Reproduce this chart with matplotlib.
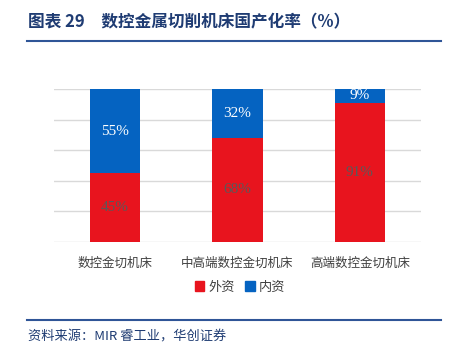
import matplotlib.pyplot as plt
import numpy as np
from matplotlib.lines import Line2D
from matplotlib.patches import Patch

plt.rcParams['font.family'] = ['Noto Sans CJK SC', 'DejaVu Sans']

categories = ["数控金切机床", "中高端数控金切机床", "高端数控金切机床"]
foreign = [45, 68, 91]
domestic = [55, 32, 9]

red = "#E8141E"
blue = "#0563C1"
navy = "#1F3C73"

fig = plt.figure(figsize=(4.55, 3.56), dpi=100)
W, H = 455, 356
ax = fig.add_axes([54 / W, 1 - 242 / H, 367 / W, 153 / H])

x = np.arange(len(categories))
ax.bar(x, foreign, width=0.41, color=red, zorder=2)
ax.bar(x, domestic, width=0.41, bottom=foreign, color=blue, zorder=2)

for i in range(len(categories)):
    ax.text(x[i], foreign[i] / 2, f"{foreign[i]}%", ha="center", va="center",
            color="#595959", fontsize=11, family="Liberation Serif", zorder=3)
    ax.text(x[i], foreign[i] + domestic[i] / 2, f"{domestic[i]}%", ha="center", va="center",
            color="white", fontsize=11, family="Liberation Serif", zorder=3)

ax.set_xlim(-0.5, 2.5)
ax.set_ylim(0, 100)
ax.set_yticks(np.arange(0, 101, 20))
ax.yaxis.grid(True, color="#D9D9D9", linewidth=1, zorder=0)
ax.set_yticklabels([])
ax.tick_params(left=False, bottom=False, labelsize=9, colors="#404040", pad=7)
ax.set_xticks(x)
ax.set_xticklabels(categories)
for s in ax.spines.values():
    s.set_visible(False)

handles = [Patch(color=red, label="外资"), Patch(color=blue, label="内资")]
fig.legend(handles=handles, loc="center", bbox_to_anchor=(240 / W, 1 - 287 / H), ncol=2,
           frameon=False, fontsize=9.5, handlelength=0.7, handleheight=0.7,
           handletextpad=0.3, columnspacing=0.8, labelcolor="#404040")

fig.text(28 / W, 1 - 22 / H, "图表 29　数控金属切削机床国产化率（%）", fontsize=12,
         fontweight="bold", color=navy, va="center", ha="left")
fig.add_artist(Line2D([27 / W, 441 / W], [1 - 41 / H, 1 - 41 / H], color="#2F5597", linewidth=1.5))
fig.add_artist(Line2D([27 / W, 441 / W], [1 - 320 / H, 1 - 320 / H], color="#2F5597", linewidth=1.5))
fig.text(28 / W, 1 - 337 / H, "资料来源：MIR 睿工业，华创证券", fontsize=9.5,
         style="italic", color=navy, va="center", ha="left")

fig.savefig("out.png", dpi=100)
